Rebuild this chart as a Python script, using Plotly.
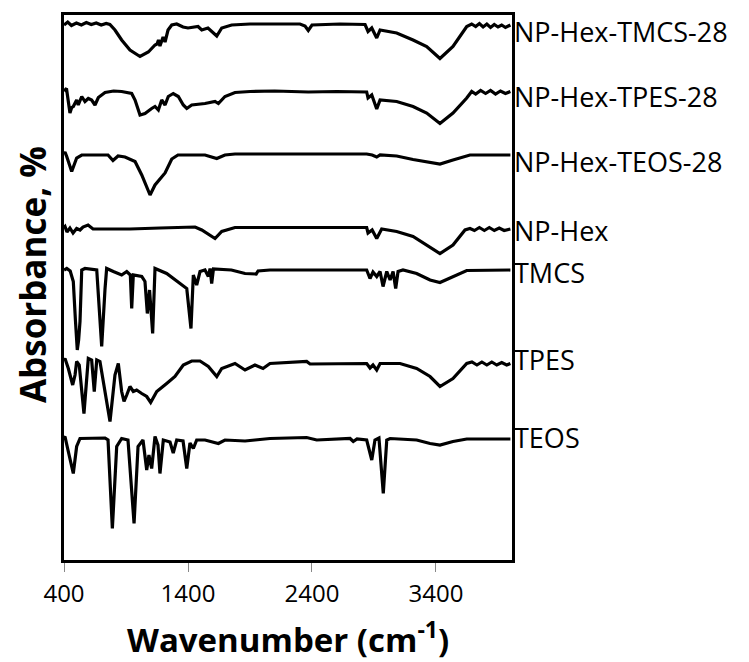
import plotly.graph_objects as go

# FTIR spectra (wavenumber in cm-1, absorbance in stacked arbitrary units)
np_hex_tmcs_28 = [
    (400, 107.0), (430, 107.6), (460, 106.9), (500, 107.4), (540, 107.0), (580, 107.5),
    (620, 107.1), (660, 107.4), (700, 107.0), (740, 107.3), (770, 107.1), (811, 106.0),
    (865, 104.0), (932, 102.0), (1013, 100.7), (1080, 101.6), (1134, 103.0), (1150, 103.2),
    (1162, 104.0), (1174, 102.8), (1199, 104.6), (1215, 103.6), (1239, 106.0), (1269, 107.0),
    (1309, 107.2), (1360, 106.6), (1400, 106.4), (1440, 106.6), (1481, 106.7), (1511, 106.0),
    (1561, 106.4), (1632, 104.8), (1672, 106.4), (1752, 107.0), (1900, 107.2), (2140, 107.2),
    (2303, 107.2), (2344, 106.8), (2370, 105.9), (2400, 107.0), (2626, 107.2), (2828, 107.1),
    (2852, 105.7), (2882, 106.4), (2922, 104.4), (2949, 106.0), (3083, 105.4), (3215, 104.0),
    (3325, 102.7), (3432, 100.3), (3537, 102.7), (3648, 106.7), (3688, 107.2), (3720, 106.7),
    (3750, 107.3), (3780, 106.6), (3810, 107.2), (3840, 106.5), (3870, 107.1), (3900, 106.6),
    (3930, 107.0), (3960, 106.5), (4000, 107.0),
]

np_hex_tpes_28 = [
    (400, 93.8), (420, 94.3), (448, 89.4), (462, 90.5), (475, 90.7), (502, 92.0), (515, 91.0),
    (543, 92.7), (569, 91.7), (596, 92.3), (623, 92.0), (650, 91.0), (677, 92.5), (731, 93.5),
    (800, 93.8), (865, 93.7), (946, 93.3), (973, 92.0), (1013, 89.0), (1053, 89.3), (1107, 90.3),
    (1134, 90.7), (1161, 90.0), (1188, 92.0), (1215, 91.0), (1241, 92.7), (1281, 93.3),
    (1322, 92.7), (1362, 91.0), (1390, 90.3), (1430, 91.0), (1537, 91.3), (1618, 91.7),
    (1645, 91.3), (1698, 92.7), (1779, 93.5), (1900, 93.7), (2100, 93.8), (2370, 93.6),
    (2600, 93.7), (2841, 93.6), (2852, 92.4), (2882, 93.0), (2922, 90.2), (2949, 92.0),
    (3083, 91.7), (3215, 90.7), (3325, 89.4), (3432, 87.3), (3537, 89.4), (3648, 92.4),
    (3688, 93.7), (3720, 93.2), (3760, 93.9), (3800, 93.3), (3840, 93.9), (3880, 93.2),
    (3920, 93.8), (3960, 93.3), (4000, 93.7),
]

np_hex_teos_28 = [
    (400, 81.2), (408, 81.6), (422, 80.7), (462, 77.7), (502, 80.4), (543, 81.0), (755, 81.0),
    (795, 79.9), (836, 80.8), (892, 80.6), (973, 79.7), (1027, 77.0), (1094, 73.0), (1134, 75.0),
    (1215, 77.4), (1269, 80.2), (1319, 81.0), (1537, 81.0), (1632, 80.3), (1698, 81.0),
    (1779, 81.2), (2841, 81.2), (2885, 81.0), (2922, 80.6), (2949, 81.0), (3083, 80.8),
    (3215, 80.1), (3352, 79.5), (3432, 79.2), (3537, 80.0), (3674, 81.0), (4000, 81.0),
]

np_hex = [
    (400, 66.5), (408, 66.7), (424, 65.6), (448, 66.4), (473, 65.4), (502, 66.3), (529, 66.0),
    (553, 66.6), (594, 67.0), (634, 66.2), (674, 66.2), (932, 66.2), (1174, 66.4), (1335, 66.5),
    (1457, 66.6), (1511, 66.0), (1618, 64.3), (1672, 65.7), (1779, 66.5), (2841, 66.5),
    (2852, 65.4), (2885, 66.0), (2922, 64.3), (2962, 66.2), (3083, 65.7), (3215, 64.7),
    (3325, 63.0), (3432, 61.3), (3537, 63.0), (3634, 66.0), (3674, 66.3), (3710, 65.9),
    (3750, 66.5), (3790, 65.9), (3830, 66.5), (3870, 65.9), (3910, 66.4), (3950, 65.9),
    (4000, 66.2),
]

tmcs = [
    (400, 58.0), (422, 58.3), (450, 57.8), (475, 55.7), (492, 48.0), (507, 42.0), (518, 44.0),
    (529, 47.7), (543, 58.0), (569, 58.3), (664, 58.0), (677, 53.0), (704, 42.7), (731, 54.3),
    (744, 58.3), (798, 57.7), (865, 57.0), (906, 57.7), (935, 57.0), (946, 50.3), (959, 57.0),
    (1027, 56.7), (1053, 55.7), (1072, 49.3), (1090, 54.0), (1115, 45.3), (1134, 58.3),
    (1228, 57.3), (1390, 54.3), (1424, 46.3), (1443, 57.0), (1470, 55.0), (1497, 57.7),
    (1537, 58.0), (1564, 56.7), (1578, 58.3), (1591, 55.3), (1605, 58.2), (1750, 58.0),
    (1860, 57.3), (1900, 57.3), (1950, 57.2), (1965, 57.8), (2061, 58.0), (2841, 58.0),
    (2868, 56.3), (2892, 57.6), (2922, 56.7), (2949, 57.7), (2973, 54.7), (3003, 57.7),
    (3030, 56.0), (3054, 57.7), (3075, 54.3), (3094, 57.7), (3134, 58.0), (3244, 57.3),
    (3352, 56.0), (3432, 55.5), (3537, 56.7), (3648, 57.9), (4000, 58.0),
]

tpes = [
    (400, 40.0), (408, 40.3), (435, 38.3), (470, 35.0), (489, 37.0), (502, 39.7), (523, 39.0),
    (561, 29.3), (596, 40.3), (623, 40.0), (644, 33.7), (664, 40.0), (690, 39.7), (771, 27.7),
    (811, 37.0), (838, 39.3), (865, 33.7), (884, 31.7), (906, 33.0), (932, 34.7), (959, 33.7),
    (986, 34.0), (1027, 33.3), (1067, 32.7), (1099, 31.5), (1148, 33.7), (1228, 35.3),
    (1295, 36.7), (1362, 39.0), (1430, 39.8), (1497, 39.8), (1564, 38.7), (1632, 36.7),
    (1672, 38.3), (1779, 39.3), (1860, 38.0), (1940, 39.0), (2005, 38.3), (2061, 39.3),
    (2357, 39.7), (2384, 39.2), (2707, 39.3), (2841, 39.3), (2868, 38.4), (2892, 39.0),
    (2922, 38.0), (2949, 39.3), (3110, 39.3), (3244, 38.3), (3352, 36.7), (3432, 34.7),
    (3537, 36.3), (3648, 39.3), (3690, 39.6), (3730, 39.0), (3770, 39.6), (3810, 39.0),
    (3850, 39.6), (3890, 39.0), (3930, 39.5), (3970, 39.0), (4000, 39.3),
]

teos = [
    (400, 24.5), (408, 24.7), (432, 22.0), (475, 17.3), (502, 22.7), (529, 24.3), (731, 24.4),
    (755, 24.0), (790, 6.3), (825, 22.7), (865, 24.3), (916, 24.0), (965, 7.3), (997, 22.7),
    (1037, 24.0), (1067, 18.0), (1085, 21.0), (1107, 18.3), (1134, 24.7), (1158, 23.0),
    (1174, 17.3), (1201, 24.0), (1255, 23.6), (1281, 21.4), (1309, 24.0), (1360, 23.8),
    (1390, 18.3), (1416, 23.4), (1443, 22.3), (1470, 24.0), (1537, 24.0), (1645, 23.3),
    (1698, 24.0), (1860, 23.8), (1940, 24.0), (2061, 24.3), (2357, 24.5), (2438, 24.0),
    (2707, 24.3), (2733, 23.7), (2763, 24.2), (2841, 24.0), (2882, 20.0), (2908, 24.0),
    (2940, 24.4), (2975, 13.3), (3003, 24.0), (3030, 24.3), (3244, 24.0), (3352, 23.3),
    (3432, 23.0), (3537, 23.7), (3648, 24.2), (4000, 24.2),
]

series_names = ["NP-Hex-TMCS-28", "NP-Hex-TPES-28", "NP-Hex-TEOS-28", "NP-Hex", "TMCS", "TPES", "TEOS"]
series_data = [np_hex_tmcs_28, np_hex_tpes_28, np_hex_teos_28, np_hex, tmcs, tpes, teos]

x_tick_values = [400, 1400, 2400, 3400]
x_tick_labels = ["400", "1400", "2400", "3400"]

# vertical nudge (px) of each end label relative to its curve's last point
label_shift = [-6, -5, -6, -1, -2, 4, 1.5]

fig = go.Figure()
annotations = []
for name, data, shift in zip(series_names, series_data, label_shift):
    xs = [p[0] for p in data]
    ys = [p[1] for p in data]
    fig.add_trace(go.Scatter(
        x=xs, y=ys, mode="lines", name=name,
        line=dict(color="black", width=3.2), showlegend=False,
    ))
    annotations.append(dict(
        x=1, xref="paper", y=ys[-1], yref="y", yshift=shift,
        text=name, showarrow=False, xanchor="left", yanchor="middle", xshift=0,
        font=dict(family="Open Sans", size=27, color="black"),
    ))

annotations.append(dict(
    x=0.5, xref="paper", y=-0.142, yref="paper",
    text="<b>Wavenumber (cm<sup>-1</sup>)</b>", showarrow=False,
    xanchor="center", yanchor="middle",
    font=dict(family="Open Sans", size=33, color="black"),
))
annotations.append(dict(
    x=-0.069, xref="paper", y=0.523, yref="paper",
    text="<b>Absorbance, %</b>", showarrow=False, textangle=-90,
    xanchor="center", yanchor="middle",
    font=dict(family="Open Sans", size=35, color="black"),
))

fig.update_layout(
    width=749, height=662,
    margin=dict(l=64, r=237, t=15, b=102),
    paper_bgcolor="white", plot_bgcolor="white",
    annotations=annotations,
    xaxis=dict(
        range=[400, 4013], tickvals=x_tick_values, ticktext=x_tick_labels,
        ticks="outside", ticklen=9, tickwidth=1, tickcolor="#888888",
        ticklabelstandoff=1,
        showline=True, mirror=True, linecolor="black", linewidth=2.5,
        showgrid=False, zeroline=False,
        tickfont=dict(family="Open Sans", size=24, color="black"),
    ),
    yaxis=dict(
        range=[0, 109], showticklabels=False, ticks="",
        showline=True, mirror=True, linecolor="black", linewidth=2.5,
        showgrid=False, zeroline=False,
    ),
)

fig.write_html("out.html")
